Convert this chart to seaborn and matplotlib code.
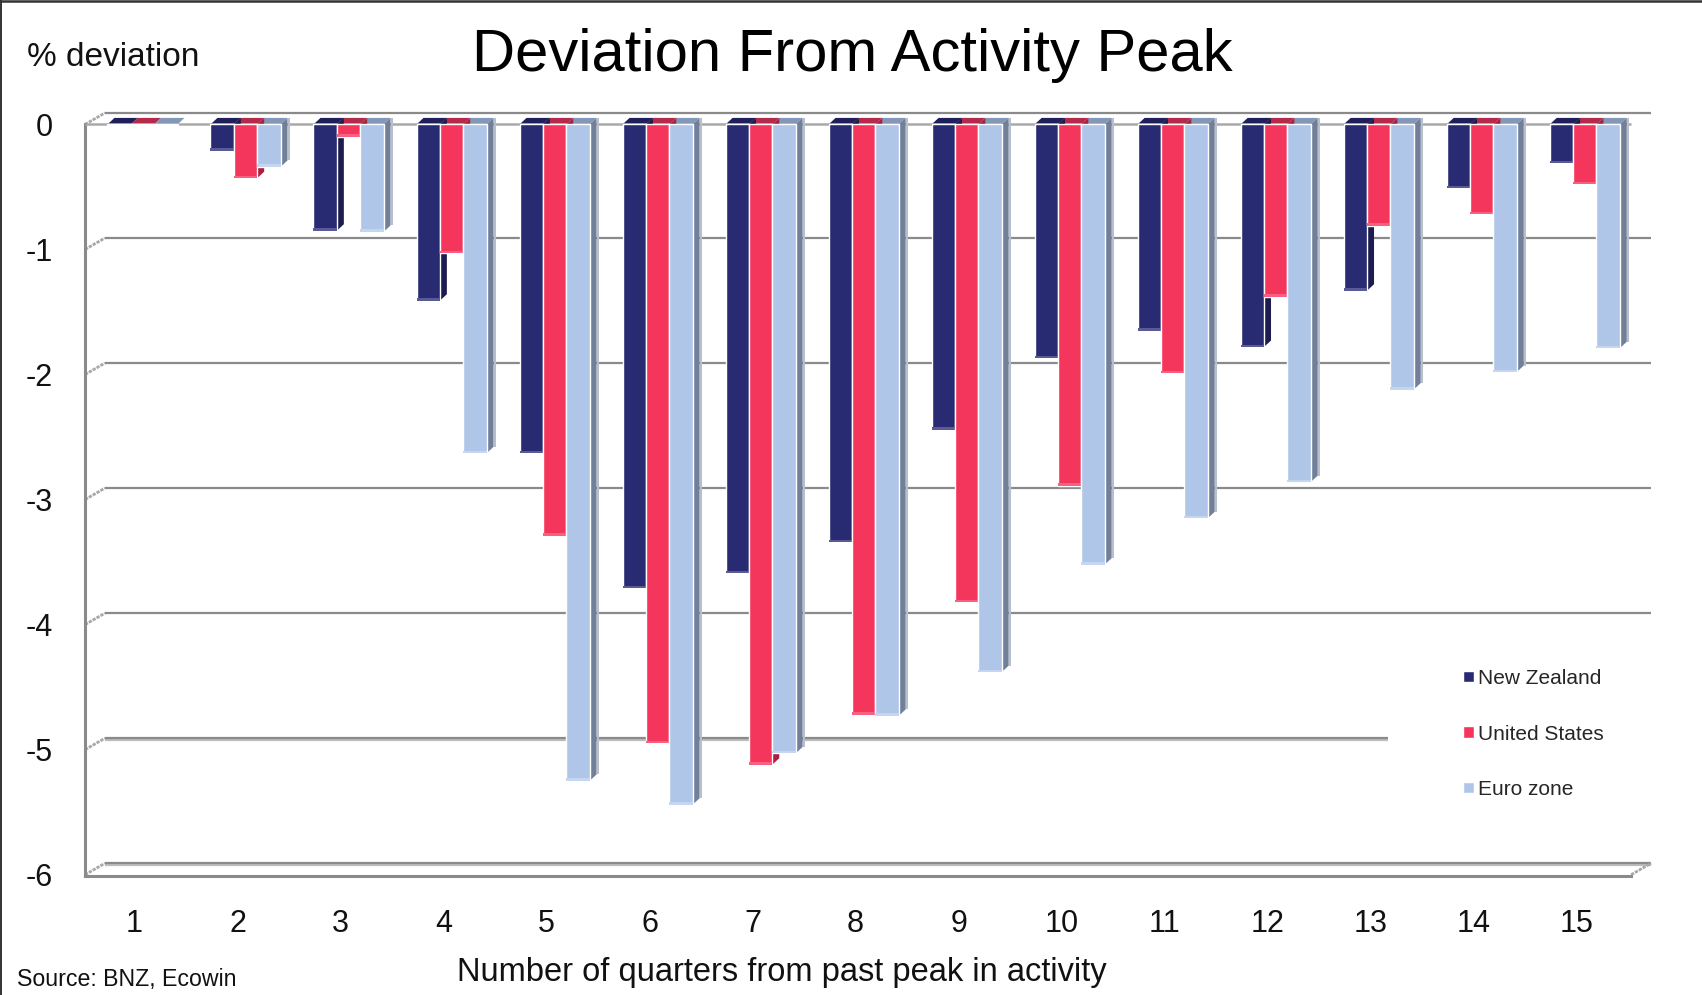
import matplotlib
matplotlib.use('Agg')
from matplotlib import pyplot as plt
from matplotlib.lines import Line2D
from matplotlib.patches import Polygon, Rectangle
from matplotlib.transforms import ScaledTranslation
import pandas as pd
import seaborn as sns

sns.set_theme(style='white')
plt.rcParams['font.family'] = ['Liberation Sans', 'DejaVu Sans']

quarters = [str(q) for q in range(1, 16)]
new_zealand = [-0.005, -0.21, -0.85, -1.41, -2.63, -3.71, -3.59, -3.34, -2.44, -1.87, -1.65, -1.78, -1.33, -0.51, -0.31]
united_states = [-0.005, -0.43, -0.10, -1.03, -3.29, -4.95, -5.12, -4.72, -3.82, -2.89, -1.99, -1.38, -0.81, -0.72, -0.48]
euro_zone = [-0.005, -0.34, -0.86, -2.63, -5.25, -5.44, -5.03, -4.73, -4.38, -3.52, -3.15, -2.86, -2.12, -1.98, -1.79]
series_names = ['New Zealand', 'United States', 'Euro zone']
y_ticks = [0, -1, -2, -3, -4, -5, -6]

front_cols = ['#292b72', '#f4365c', '#b0c6e8']
side_cols = ['#1c1c4f', '#a8213f', '#717f99']
top_cols = ['#1f1f5c', '#b52a4a', '#8398b8']
edge_cols = ['#5a5a96', '#f8607f', '#c4d6f0']

W, H = 1702, 995
grid_dark = '#8a8a8a'
grid_light = '#bcbcbc'


def fx(px):
    return px / W


def fy(px):
    return 1 - px / H


df = pd.DataFrame({
    'quarter': quarters * 3,
    'value': new_zealand + united_states + euro_zone,
    'country': sum([[n] * len(quarters) for n in series_names], []),
})

f = plt.figure(figsize=((W + 0.1) / 100, (H + 0.1) / 100), dpi=100, facecolor='white')
ax = f.add_axes([fx(85), fy(876), fx(1631 - 85), (876 - 124.5) / H])
ax.patch.set_alpha(0)

sns.barplot(df, x='quarter', y='value', hue='country', palette=dict(zip(series_names, front_cols)),
            width=0.68, gap=0, saturation=1, errorbar=None, ax=ax)

ax.set_xlim(-0.558, 14.45)
ax.set_ylim(-6.01, 0)
x_per_px = 1 / 103
y_per_px = 1 / 125

# back wall of the fake 3d box
wall_dx = 20 * x_per_px
wall_dy = 11.5 * y_per_px
x0, x1 = ax.get_xlim()
for v in y_ticks:
    ax.plot([x0 + wall_dx, x1 + wall_dx], [v + wall_dy] * 2, color=grid_dark, lw=1.6, zorder=1,
            clip_on=False, solid_capstyle='butt')
    if v <= -5:
        ax.plot([x0 + wall_dx, x1 + wall_dx], [v + wall_dy - 2 * y_per_px] * 2, color=grid_light, lw=1.6,
                zorder=0.9, clip_on=False, solid_capstyle='butt')
    ax.plot([x0, x0 + wall_dx], [v, v + wall_dy], color='#a8a8a8', lw=2, ls=(0, (1.2, 0.4)), zorder=1,
            clip_on=False)
ax.plot([x1, x1 + wall_dx], [-6, -6 + wall_dy], color='#a8a8a8', lw=2, ls=(0, (1.2, 0.4)), zorder=1,
        clip_on=False)
ax.plot([x0, x1], [0, 0], color='#a9a9a9', lw=1.8, zorder=2.5, clip_on=False, solid_capstyle='butt')

# the white box the legend sits in hides the -5 wall line
ax.add_patch(Rectangle((fx(1388), fy(850)), fx(270), 210 / H, transform=f.transFigure, fc='white', ec='none',
                       zorder=1.5, clip_on=False))

# side and top faces built from the bars seaborn drew
bar_dx = 7 * x_per_px
bar_dy = 6.5 * y_per_px
rim_dx = 2 * x_per_px
for i, cont in enumerate(ax.containers):
    base = 3 + i
    for b in cont:
        l, r = b.get_x(), b.get_x() + b.get_width()
        low = b.get_y() + b.get_height()
        b.set_zorder(base + 0.5)
        b.set_clip_on(False)
        ax.add_patch(Polygon([(l, 0), (l + bar_dx, bar_dy), (r + bar_dx, bar_dy), (r, 0)], fc=top_cols[i],
                             ec='none', zorder=2, clip_on=False))
        if low < -0.05:
            ax.add_patch(Polygon([(r, 0), (r + bar_dx, bar_dy), (r + bar_dx, low + bar_dy), (r, low)],
                                 fc=side_cols[i], ec='none', zorder=base, clip_on=False))
            ax.add_patch(Rectangle((l, low), r - l, 2.5 * y_per_px, fc=edge_cols[i], ec='none', zorder=base + 0.6,
                                   clip_on=False))
            if i == 2:
                # pale rim on the outer side of the euro bars
                ax.add_patch(Rectangle((r + bar_dx, low + bar_dy), rim_dx, -low, fc='#b7bfcc', ec='none',
                                       zorder=base, clip_on=False))

ax.set_yticks(y_ticks)
ax.set_yticklabels([str(v) for v in y_ticks])
ax.tick_params(axis='y', length=0, pad=23, labelsize=22, colors='#111111')
ax.tick_params(axis='x', length=0, pad=24, labelsize=22, colors='#111111')
tick_shift = ScaledTranslation(-8 / 100, 0, f.dpi_scale_trans)
for lab in ax.get_xticklabels():
    lab.set_transform(lab.get_transform() + tick_shift)

ax.set_xlabel('Number of quarters from past peak in activity', fontsize=23.5, color='#111111',
              x=(782 - 85) / 1546, labelpad=13)
ax.set_ylabel('')

for side in ['top', 'right']:
    ax.spines[side].set_visible(False)
for side in ['left', 'bottom']:
    ax.spines[side].set_color(grid_dark)
    ax.spines[side].set_linewidth(2.2)
    ax.spines[side].set_zorder(2)

sns.move_legend(ax, 'upper left', bbox_to_anchor=(fx(1463), fy(669)), bbox_transform=f.transFigure, frameon=False,
                title=None, fontsize=15, labelspacing=1.75, handlelength=0.53, handleheight=0.48,
                handletextpad=0.19, borderpad=0, borderaxespad=0)
ax.get_legend().set_zorder(10)

f.suptitle('Deviation From Activity Peak', x=fx(852), y=fy(55), va='center', ha='center', fontsize=43, color='black')
f.text(fx(27), fy(57), '% deviation', fontsize=24, va='center', ha='left', color='#111111')
f.text(fx(17), fy(979), 'Source: BNZ, Ecowin', fontsize=16.7, va='center', ha='left', color='#111111')

# outer frame, only top and left survive in the source image
f.add_artist(Line2D([0, 1], [fy(1), fy(1)], color='#333333', lw=1.8, transform=f.transFigure))
f.add_artist(Line2D([fx(0.5), fx(0.5)], [0, 1], color='#333333', lw=1.4, transform=f.transFigure))

f.savefig('out.png', dpi=100)
